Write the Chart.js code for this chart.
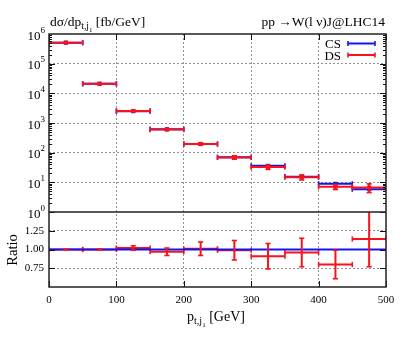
<!DOCTYPE html>
<html><head><meta charset="utf-8">
<script src="https://cdn.jsdelivr.net/npm/chart.js@4.4.1/dist/chart.umd.min.js"></script>
<style>
html,body{margin:0;padding:0;background:#fff;}
#wrap{position:relative;width:407px;height:339px;}
canvas{position:absolute;left:0;top:0;}
</style></head><body>
<div id="wrap"><canvas id="c" width="407" height="339"></canvas></div>
<script>
// ---------------- data ----------------
const binEdges   = [0, 50, 100, 150, 200, 250, 300, 350, 400, 450, 500];
const csValues   = [5.1e5, 2.1e4, 2.5e3, 620, 195, 70, 36, 15.5, 8.9, 5.9];
const dsValues   = [5.1e5, 2.1e4, 2.55e3, 600, 197, 69, 32.8, 14.9, 7.1, 6.7];
const dsErrors   = [1500, 100, 75, 30, 17, 9, 5.6, 2.9, 1.4, 2.2];
const csRatio    = [1, 1, 1, 1, 1, 1, 1, 1, 1, 1];
const dsRatio    = [1.00, 1.00, 1.02, 0.97, 1.01, 0.99, 0.91, 0.96, 0.80, 1.14];
const dsRatioErr = [0.004, 0.006, 0.03, 0.05, 0.09, 0.13, 0.17, 0.19, 0.19, 0.37];
const logExponents = [0, 1, 2, 3, 4, 5, 6];
const ratioTicks = [0.75, 1.00, 1.25];
const xTicks = [0, 100, 200, 300, 400, 500];
const seriesNames = ['CS', 'DS'];

const RED = 'rgb(245,20,30)';
const BLUE = 'rgb(20,20,240)';
const GRID = 'rgba(140,140,140,0.95)';
const FONT = '"Liberation Serif", "Times New Roman", serif';

// ---------------- dataset builders ----------------
function mids(){ const m=[]; for(let i=0;i<binEdges.length-1;i++) m.push((binEdges[i]+binEdges[i+1])/2); return m; }
function hBars(vals, color, axis, order, label){
  const d=[];
  vals.forEach((v,i)=>{ d.push({x:binEdges[i],y:v},{x:binEdges[i+1],y:v},{x:binEdges[i+1],y:null}); });
  return {label, data:d, yAxisID:axis, showLine:true, spanGaps:false, borderColor:color, borderWidth:2, pointRadius:0, order};
}
function hCaps(vals, color, axis, order){
  const d=[];
  vals.forEach((v,i)=>{ d.push({x:binEdges[i],y:v},{x:binEdges[i+1],y:v}); });
  return {data:d, yAxisID:axis, showLine:false, pointStyle:'line', rotation:90, pointRadius:2.6, borderColor:color, pointBorderColor:color, pointBorderWidth:1.6, order};
}
function markers(vals, color, axis, order){
  const m=mids();
  return {data:vals.map((v,i)=>({x:m[i],y:v})), yAxisID:axis, showLine:false, pointStyle:'rect', pointRadius:2.9, backgroundColor:color, borderColor:color, pointBorderWidth:0, order};
}
function vBars(vals, errs, color, axis, order){
  const m=mids(), d=[];
  vals.forEach((v,i)=>{ d.push({x:m[i],y:v-errs[i]},{x:m[i],y:v+errs[i]},{x:m[i],y:null}); });
  return {data:d, yAxisID:axis, showLine:true, spanGaps:false, borderColor:color, borderWidth:2, pointRadius:0, order};
}
function vCaps(vals, errs, color, axis, order){
  const m=mids(), d=[];
  vals.forEach((v,i)=>{ d.push({x:m[i],y:v-errs[i]},{x:m[i],y:v+errs[i]}); });
  return {data:d, yAxisID:axis, showLine:false, pointStyle:'line', rotation:0, pointRadius:2.6, borderColor:color, pointBorderColor:color, pointBorderWidth:1.6, order};
}

const datasets = [
  hBars(csValues, BLUE, 'y', 20, seriesNames[0]),
  hCaps(csValues, BLUE, 'y', 19),
  markers(csValues, BLUE, 'y', 18),
  hBars(dsValues, RED, 'y', 10, seriesNames[1]),
  hCaps(dsValues, RED, 'y', 9),
  markers(dsValues, RED, 'y', 8),
  vBars(dsValues, dsErrors, RED, 'y', 7),
  vCaps(dsValues, dsErrors, RED, 'y', 6),
  hBars(dsRatio, RED, 'yR', 5),
  hCaps(dsRatio, RED, 'yR', 4),
  hBars(csRatio, BLUE, 'yR', 3),
  vBars(dsRatio, dsRatioErr, RED, 'yR', 2),
  vCaps(dsRatio, dsRatioErr, RED, 'yR', 1)
];

// ---------------- decorations plugin ----------------
function drawParts(ctx, parts, x, y, align){
  let w=0;
  parts.forEach(p=>{ ctx.font=p.s+'px '+FONT; w+=ctx.measureText(p.t).width; });
  let cx = align==='right' ? x-w : align==='center' ? x-w/2 : x;
  ctx.textAlign='left'; ctx.textBaseline='alphabetic';
  parts.forEach(p=>{ ctx.font=p.s+'px '+FONT; ctx.fillText(p.t, cx, y+p.dy); cx+=ctx.measureText(p.t).width; });
}

const decor = {
  id:'decor',
  afterDraw(chart){
    const {ctx, chartArea:a, scales} = chart;
    const x=scales.x, y=scales.y, r=scales.yR;
    ctx.save();
    ctx.strokeStyle='#111'; ctx.lineWidth=1;
    ctx.beginPath();
    for(let e=0;e<6;e++){
      for(let k=1;k<=9;k++){
        const py=Math.round(y.getPixelForValue(k*Math.pow(10,e)))+0.5;
        const len = k===1?6:3;
        ctx.moveTo(a.left,py); ctx.lineTo(a.left+len,py);
        ctx.moveTo(a.right,py); ctx.lineTo(a.right-len,py);
      }
    }
    ratioTicks.forEach(v=>{
      const py=Math.round(r.getPixelForValue(v))+0.5;
      ctx.moveTo(a.left,py); ctx.lineTo(a.left+6,py);
      ctx.moveTo(a.right,py); ctx.lineTo(a.right-6,py);
    });
    xTicks.forEach(v=>{
      const px=Math.round(x.getPixelForValue(v))+0.5;
      ctx.moveTo(px,a.top); ctx.lineTo(px,a.top+6);
      ctx.moveTo(px,a.bottom); ctx.lineTo(px,a.bottom-6);
    });
    ctx.stroke();
    ctx.lineWidth=1.5; ctx.strokeStyle='#222';
    ctx.strokeRect(a.left, a.top, a.right-a.left, a.bottom-a.top);
    ctx.beginPath(); ctx.moveTo(a.left, y.bottom); ctx.lineTo(a.right, y.bottom); ctx.stroke();

    ctx.fillStyle='#000';
    logExponents.forEach(e=>{
      const py=y.getPixelForValue(Math.pow(10,e));
      drawParts(ctx,[{t:'10',s:13,dy:0},{t:String(e),s:9,dy:-7}],45,py+5.5,'right');
    });
    drawParts(ctx,[{t:'dσ/dp',s:13.5,dy:0},{t:'t,j',s:9.5,dy:3},{t:'1',s:7,dy:5.5},{t:' [fb/GeV]',s:13.5,dy:0}],50,26,'left');
    drawParts(ctx,[{t:'pp \u2192W(l \u03bd)J@LHC14',s:13.5,dy:0}],385,26,'right');
    drawParts(ctx,[{t:'p',s:14,dy:0},{t:'t,j',s:10,dy:3},{t:'1',s:7,dy:6},{t:' [GeV]',s:14,dy:0}],216,321,'center');
    ctx.save(); ctx.translate(17,250); ctx.rotate(-Math.PI/2);
    drawParts(ctx,[{t:'Ratio',s:14.5,dy:0}],0,0,'center');
    ctx.restore();

    const leg=[{n:seriesNames[0],c:BLUE,yy:43.5},{n:seriesNames[1],c:RED,yy:55}];
    leg.forEach(l=>{
      drawParts(ctx,[{t:l.n,s:13,dy:0}],341,l.yy+4.5,'right');
      ctx.strokeStyle=l.c; ctx.lineWidth=2;
      ctx.beginPath(); ctx.moveTo(348,l.yy); ctx.lineTo(375,l.yy); ctx.stroke();
      ctx.lineWidth=1.6; ctx.beginPath();
      ctx.moveTo(348,l.yy-2.6); ctx.lineTo(348,l.yy+2.6);
      ctx.moveTo(375,l.yy-2.6); ctx.lineTo(375,l.yy+2.6); ctx.stroke();
    });
    ctx.restore();
  }
};

const gridDotted = {color:GRID, lineWidth:1, drawTicks:false};
const dotBorder = {display:false, dash:[2,2]};

new Chart(document.getElementById('c'), {
  type:'scatter',
  data:{datasets},
  options:{
    responsive:false, animation:false, devicePixelRatio:1,
    layout:{padding:{left:0, top:34, right:21, bottom:0}},
    plugins:{legend:{display:false}, tooltip:{enabled:false}},
    scales:{
      x:{type:'linear', min:0, max:500, position:'bottom',
         afterBuildTicks:s=>{ s.ticks = xTicks.map(v=>({value:v})); },
         afterFit:s=>{ s.height = 52; },
         ticks:{padding:7, color:'#000', font:{family:FONT, size:11}, maxRotation:0},
         grid:{...gridDotted, color:ctx=> (ctx.tick && (ctx.tick.value===0||ctx.tick.value===500)) ? 'rgba(0,0,0,0)' : GRID},
         border:dotBorder},
      yR:{type:'linear', min:0.5, max:1.5, position:'left', stack:'p', stackWeight:75,
         afterBuildTicks:s=>{ s.ticks = ratioTicks.map(v=>({value:v})); },
         afterFit:s=>{ s.width = 49; },
         ticks:{padding:5, color:'#000', font:{family:FONT, size:11}, callback:v=>Number(v).toFixed(2)},
         grid:gridDotted, border:dotBorder},
      y:{type:'logarithmic', min:1, max:1e6, position:'left', stack:'p', stackWeight:178,
         afterBuildTicks:s=>{ s.ticks = logExponents.map(e=>({value:Math.pow(10,e)})); },
         afterFit:s=>{ s.width = 49; },
         ticks:{display:false},
         grid:{...gridDotted, color:ctx=> (ctx.tick && (ctx.tick.value===1||ctx.tick.value===1e6)) ? 'rgba(0,0,0,0)' : GRID},
         border:dotBorder}
    }
  },
  plugins:[decor]
});
</script>
</body></html>
